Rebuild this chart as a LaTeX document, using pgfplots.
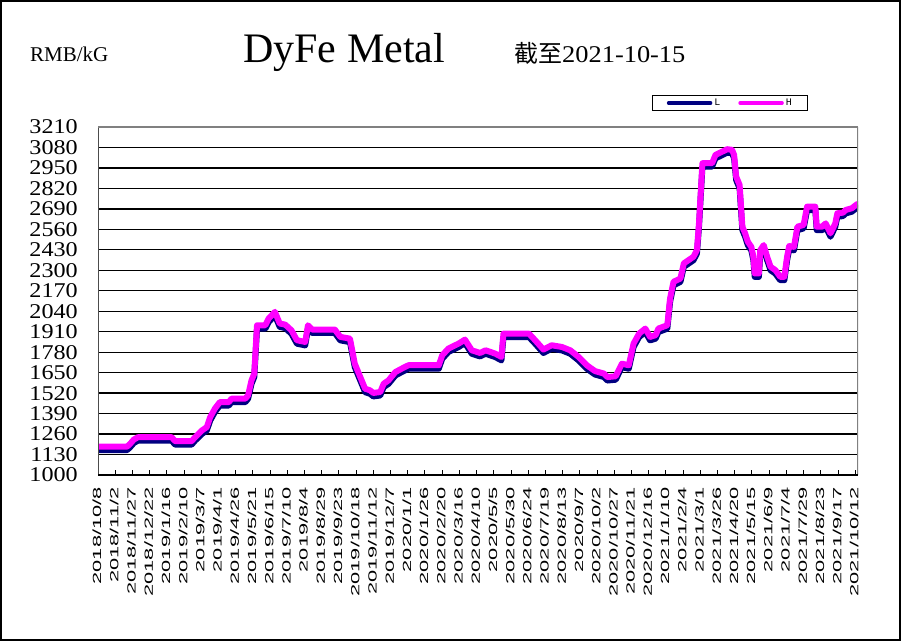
\documentclass[border=0pt]{standalone}
\usepackage{pgfplots}
\pgfplotsset{compat=1.18}
\usepackage{pgfplotstable}
\usepackage{fontspec}
\setmainfont{Liberation Serif}
\newfontfamily\ytfont[FakeStretch=1.15]{Liberation Serif}
\newfontfamily\xtfont[FakeStretch=1.85]{Liberation Sans}
\newfontfamily\datefont[FakeStretch=1.1]{Liberation Serif}
\newfontfamily\cjk{Noto Sans CJK SC}
\newfontfamily\legfont{Liberation Mono}
\definecolor{lnavy}{RGB}{0,0,128}
\definecolor{hmag}{RGB}{255,0,255}

\pgfplotstableread{
day H L
0 1180 1158
42 1180 1158
46 1195 1173
52 1225 1203
58 1240 1218
107 1240 1218
112 1215 1193
136 1215 1193
141 1240 1218
151 1283 1261
158 1304 1282
163 1368 1346
170 1423 1401
177 1463 1441
190 1463 1441
194 1485 1463
214 1485 1463
218 1506 1484
223 1601 1579
227 1644 1622
231 1951 1929
243 1951 1929
248 1994 1972
257 2036 2014
264 1962 1940
272 1955 1933
281 1919 1897
289 1856 1834
301 1845 1823
305 1951 1929
311 1924 1902
344 1924 1902
352 1877 1855
366 1866 1844
373 1707 1685
381 1622 1600
388 1548 1526
395 1538 1516
400 1521 1499
410 1527 1505
415 1580 1558
422 1601 1579
432 1654 1632
444 1682 1660
451 1697 1675
495 1697 1675
500 1760 1738
509 1803 1781
524 1835 1813
533 1860 1838
543 1792 1770
555 1775 1753
563 1792 1770
577 1771 1749
586 1750 1728
589 1898 1876
626 1898 1876
635 1856 1834
647 1797 1775
659 1824 1802
674 1813 1791
686 1792 1770
698 1750 1728
710 1697 1675
722 1660 1638
735 1644 1622
740 1622 1600
752 1627 1605
761 1707 1685
771 1697 1675
778 1835 1813
786 1898 1876
795 1930 1908
802 1877 1855
810 1888 1866
814 1930 1908
827 1951 1929
831 2121 2099
836 2227 2205
846 2248 2226
851 2344 2322
865 2386 2364
870 2428 2406
873 2598 2576
878 2980 2958
892 2980 2958
897 3033 3011
907 3054 3032
914 3069 3047
921 3065 3043
924 3033 3011
927 2895 2873
932 2842 2820
936 2577 2555
940 2535 2513
944 2481 2459
949 2449 2427
952 2386 2364
954 2280 2258
960 2280 2258
962 2428 2406
967 2460 2438
972 2386 2364
977 2322 2300
984 2301 2279
991 2259 2237
997 2259 2237
1001 2386 2364
1004 2454 2432
1011 2449 2427
1016 2577 2555
1025 2588 2566
1030 2704 2682
1042 2704 2682
1044 2577 2555
1052 2577 2555
1057 2598 2576
1064 2535 2513
1071 2598 2576
1074 2662 2640
1082 2666 2644
1086 2683 2661
1095 2694 2672
1103 2721 2699
}\data

\begin{document}
\begin{tikzpicture}[x=1pt,y=1pt]
\useasboundingbox (0,0) rectangle (901,641);
\node[anchor=base west, inner sep=0pt, font=\fontsize{21}{21}\selectfont] at (30,579) {RMB/kG};
\node[anchor=base west, inner sep=0pt, font=\fontsize{42}{42}\selectfont] at (243,578) {DyFe Metal};
\node[anchor=base west, inner sep=0pt] at (514,578) {{\cjk\fontsize{24}{24}\selectfont 截至}{\datefont\fontsize{24}{24}\selectfont 2021-10-15}};
\begin{axis}[
  at={(98pt,166pt)}, anchor=south west,
  width=760pt, height=348pt, scale only axis,
  xmin=0, xmax=1104, ymin=1000, ymax=3210,
  ytick={1000,1130,1260,1390,1520,1650,1780,1910,2040,2170,2300,2430,2560,2690,2820,2950,3080,3210},
  yticklabels={1000,1130,1260,1390,1520,1650,1780,1910,2040,2170,2300,2430,2560,2690,2820,2950,3080,3210},
  xtick={0,25,...,1100},
  xticklabels={2018/10/8,2018/11/2,2018/11/27,2018/12/22,2019/1/16,2019/2/10,2019/3/7,2019/4/1,2019/4/26,2019/5/21,2019/6/15,2019/7/10,2019/8/4,2019/8/29,2019/9/23,2019/10/18,2019/11/12,2019/12/7,2020/1/1,2020/1/26,2020/2/20,2020/3/16,2020/4/10,2020/5/5,2020/5/30,2020/6/24,2020/7/19,2020/8/13,2020/9/7,2020/10/2,2020/10/27,2020/11/21,2020/12/16,2021/1/10,2021/2/4,2021/3/1,2021/3/26,2021/4/20,2021/5/15,2021/6/9,2021/7/4,2021/7/29,2021/8/23,2021/9/17,2021/10/12},
  x tick label style={yshift=-12pt, xshift=-1pt, rotate=90, anchor=east, inner sep=0pt, font=\xtfont\fontsize{11.8}{11.8}\selectfont},
  y tick label style={anchor=east, inner sep=0pt, xshift=-20pt, font=\ytfont\fontsize{21}{21}\selectfont},
  ymajorgrids=true,
  major grid style={black, line width=1.3pt},
  tick align=inside, major tick length=5pt,
  xtick pos=lower, ytick pos=left,
  ytick style={draw=none},
  xtick style={black, line width=1pt},
  axis line style={draw=none},
  legend columns=2,
  legend style={at={(0.832,1.069)}, anchor=center, draw=black, line width=1pt,
    font=\legfont\fontsize{10}{10}\selectfont, inner xsep=14pt, inner ysep=1.5pt,
    /tikz/every even column/.append style={column sep=16pt}},
  legend image code/.code={\draw[#1, line width=3.5pt, line cap=round] (0pt,0pt) -- (42pt,0pt);},
]
\addplot[lnavy, line width=6pt, line join=round, line cap=round] table[x=day, y=L] {\data};
\addplot[hmag, line width=6pt, line join=round, line cap=round] table[x=day, y=H] {\data};
\legend{L,H}
\draw[gray!60!black, line width=2pt] (rel axis cs:0,0) -- (rel axis cs:0,1);
\draw[gray, line width=2pt] (rel axis cs:0,1) -- (rel axis cs:1,1);
\draw[gray, line width=3pt] (rel axis cs:1,0) -- (rel axis cs:1,1);
\draw[black, line width=2pt] (rel axis cs:0,0) -- (rel axis cs:1,0);
\end{axis}
\draw[line width=2pt] (1,1) rectangle (900,640);
\end{tikzpicture}
\end{document}
